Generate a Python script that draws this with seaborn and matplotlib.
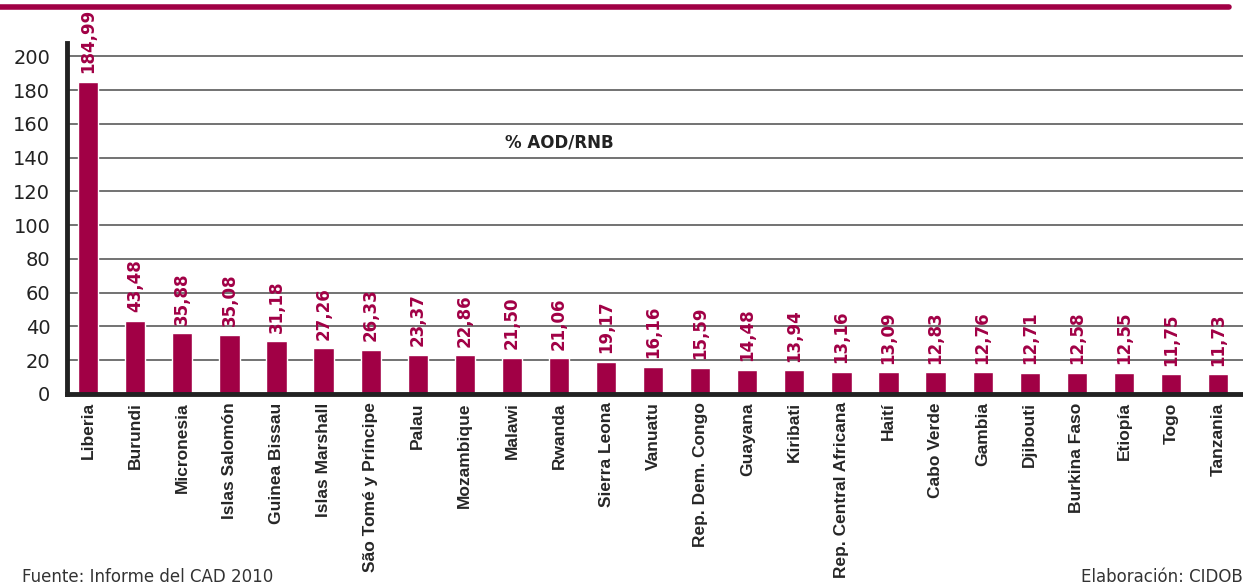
import matplotlib
matplotlib.use("Agg")
import matplotlib.pyplot as plt
import seaborn as sns
import pandas as pd

sns.set_style("white")
plt.rcParams['font.family'] = ['DejaVu Sans']

# data (% AOD/RNB)
countries = ["Liberia", "Burundi", "Micronesia", "Islas Salomón", "Guinea Bissau",
             "Islas Marshall", "São Tomé y Príncipe", "Palau", "Mozambique", "Malawi",
             "Rwanda", "Sierra Leona", "Vanuatu", "Rep. Dem. Congo", "Guayana",
             "Kiribati", "Rep. Central Africana", "Haití", "Cabo Verde", "Gambia",
             "Djibouti", "Burkina Faso", "Etiopía", "Togo", "Tanzania"]
values = [184.99, 43.48, 35.88, 35.08, 31.18, 27.26, 26.33, 23.37, 22.86, 21.50,
          21.06, 19.17, 16.16, 15.59, 14.48, 13.94, 13.16, 13.09, 12.83, 12.76,
          12.71, 12.58, 12.55, 11.75, 11.73]
yticks = [0, 20, 40, 60, 80, 100, 120, 140, 160, 180, 200]

df = pd.DataFrame({'pais': countries, 'valor': values})
crimson = '#a10045'

fig = plt.figure(figsize=(12.43, 5.85), dpi=100)
ax = fig.add_axes([0.0539, 0.3265, 0.9461, 0.6])

ax.set_axisbelow(True)
ax.yaxis.grid(True, color='#5a5a5a', linewidth=1.2)
sns.barplot(data=df, x='pais', y='valor', color=crimson, saturation=1, width=0.43, ax=ax)

labels = [f"{v:.2f}".replace('.', ',') for v in values]
ax.bar_label(ax.containers[0], labels=labels, rotation=90, padding=6,
             color=crimson, fontsize=12, fontweight='bold')

ax.set_ylim(0, 208)
ax.set_xlim(-0.45, 24.53)
ax.set_yticks(yticks)
ax.set_xlabel('')
ax.set_ylabel('')
ax.tick_params(axis='y', length=0, pad=12, labelsize=14, labelcolor='#222222')
ax.tick_params(axis='x', length=0, pad=6)
ax.set_xticks(range(len(countries)))
ax.set_xticklabels(countries, rotation=90, fontsize=12.5, fontweight='bold',
                   family=['Liberation Sans', 'DejaVu Sans'], va='top')

for s in ['top', 'right']:
    ax.spines[s].set_visible(False)
ax.spines['left'].set_linewidth(3.5)
ax.spines['left'].set_color('#222222')
ax.spines['bottom'].set_linewidth(3.5)
ax.spines['bottom'].set_color('#222222')

ax.text(10, 149, '% AOD/RNB', ha='center', va='center', fontsize=12,
        fontweight='bold', color='#222222')

# top band
fig.add_artist(plt.Line2D([0, 1229 / 1243], [1 - 6.5 / 585, 1 - 6.5 / 585],
                          color=crimson, linewidth=4, transform=fig.transFigure))

fig.text(22 / 1243, 1 - 577 / 585, 'Fuente: Informe del CAD 2010', ha='left',
         va='center', fontsize=12, color='#333333')
fig.text(1.0, 1 - 577 / 585, 'Elaboración: CIDOB', ha='right',
         va='center', fontsize=12, color='#333333')

fig.savefig('out.png', dpi=100)
